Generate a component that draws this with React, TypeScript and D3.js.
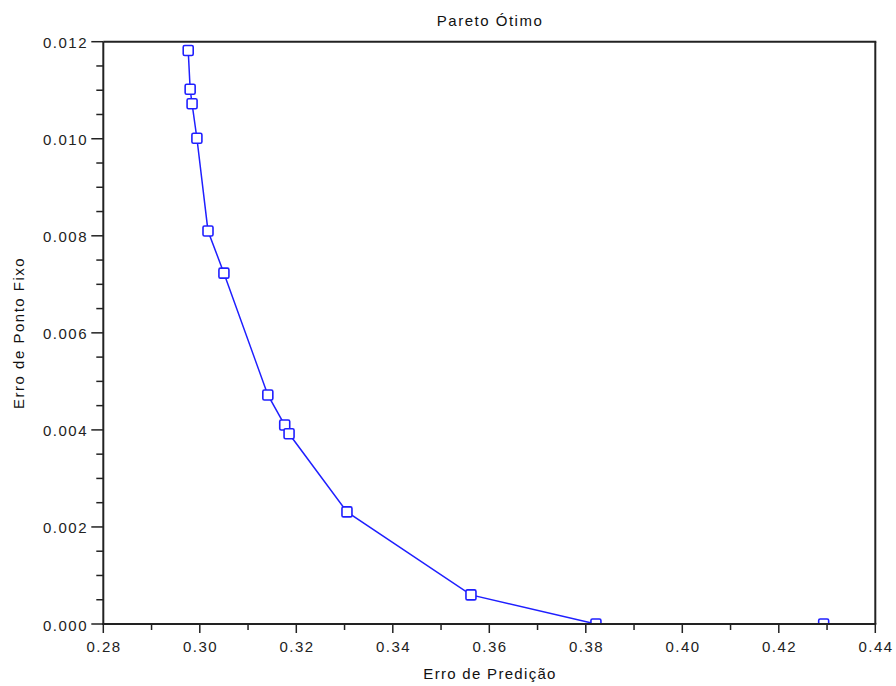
import React from "react";
import * as d3 from "d3";

const predictionError = [0.2976, 0.298, 0.2984, 0.2994, 0.3017, 0.305, 0.3141, 0.3176, 0.3185, 0.3305, 0.3562, 0.3821, 0.4293];
const fixedPointError = [0.01182, 0.01102, 0.01072, 0.01001, 0.0081, 0.00723, 0.00472, 0.0041, 0.00392, 0.00231, 0.0006, 0.0, 0.0];
const xMajorTicks = [0.28, 0.3, 0.32, 0.34, 0.36, 0.38, 0.4, 0.42, 0.44];
const xMinorTicks = [0.29, 0.31, 0.33, 0.35, 0.37, 0.39, 0.41, 0.43];
const yMajorTicks = [0, 0.002, 0.004, 0.006, 0.008, 0.01, 0.012];
const yMinorTicks = d3.range(0, 24).map((i) => i * 0.0005).filter((v, i) => i % 4 !== 0);

const W = 896;
const H = 686;
const L = 103.3, R = 875.3, T = 41.7, B = 624;
const FONT = "'Liberation Sans', Arial, Helvetica, sans-serif";
const BLUE = "#1f1fff";

export default function App() {
  const x = d3.scaleLinear().domain([0.28, 0.44]).range([L, R]);
  const y = d3.scaleLinear().domain([0, 0.012]).range([B, T]);
  const pts = predictionError.map((v, i) => [v, fixedPointError[i]] as [number, number]);
  const line = d3.line<[number, number]>().x((d) => x(d[0])).y((d) => y(d[1]))(pts) || "";
  const s = 10;
  return (
    <svg width={W} height={H} style={{ position: "absolute", left: 0, top: 0, background: "#fff" }}
      fontFamily={FONT}>
      <defs>
        <clipPath id="plotclip">
          <rect x={L} y={T} width={R - L} height={B - T} />
        </clipPath>
      </defs>
      <rect x={0} y={0} width={W} height={H} fill="#fff" />
      <g clipPath="url(#plotclip)">
        <path d={line} fill="none" stroke={BLUE} strokeWidth={1.5} />
        {pts.map((d, i) => (
          <rect key={i} x={x(d[0]) - s / 2} y={y(d[1]) - s / 2} width={s} height={s} rx={1.5}
            fill="#fff" stroke={BLUE} strokeWidth={1.6} />
        ))}
      </g>
      {/* frame */}
      <line x1={L} x2={R + 1} y1={T} y2={T} stroke="#222" strokeWidth={2} />
      <line x1={R} x2={R} y1={T} y2={B} stroke="#222" strokeWidth={2} />
      <line x1={L} x2={L} y1={T} y2={B + 1} stroke="#222" strokeWidth={2} />
      <line x1={L - 1} x2={R + 1} y1={B} y2={B} stroke="#222" strokeWidth={2} />
      {/* x ticks */}
      {xMajorTicks.map((t) => (
        <g key={"xM" + t}>
          <line x1={x(t)} x2={x(t)} y1={B} y2={B + 9} stroke="#222" strokeWidth={1.5} />
          <text x={x(t) + 0.75} y={652} textAnchor="middle" fontSize={15} letterSpacing={1.5} fill="#222">
            {t.toFixed(2)}
          </text>
        </g>
      ))}
      {xMinorTicks.map((t) => (
        <line key={"xm" + t} x1={x(t)} x2={x(t)} y1={B} y2={B + 6} stroke="#222" strokeWidth={1.5} />
      ))}
      {/* y ticks */}
      {yMajorTicks.map((t) => (
        <g key={"yM" + t}>
          <line x1={L - 12} x2={L} y1={y(t)} y2={y(t)} stroke="#222" strokeWidth={1.5} />
          <text x={88} y={y(t) + 6.5} textAnchor="end" fontSize={15} letterSpacing={1.5} fill="#222">
            {t.toFixed(3)}
          </text>
        </g>
      ))}
      {yMinorTicks.map((t) => (
        <line key={"ym" + t} x1={L - 7} x2={L} y1={y(t)} y2={y(t)} stroke="#222" strokeWidth={1.5} />
      ))}
      {/* titles */}
      <text x={(L + R) / 2 + 0.75} y={26} textAnchor="middle" fontSize={15} letterSpacing={1.5} fill="#111">
        Pareto Ótimo
      </text>
      <text x={(L + R) / 2 + 0.75} y={679} textAnchor="middle" fontSize={15} letterSpacing={1.3} fill="#111">
        Erro de Predição
      </text>
      <text transform={`translate(23.5, ${(T + B) / 2}) rotate(-90)`} textAnchor="middle" fontSize={15}
        letterSpacing={1.5} fill="#111">
        Erro de Ponto Fixo
      </text>
    </svg>
  );
}
